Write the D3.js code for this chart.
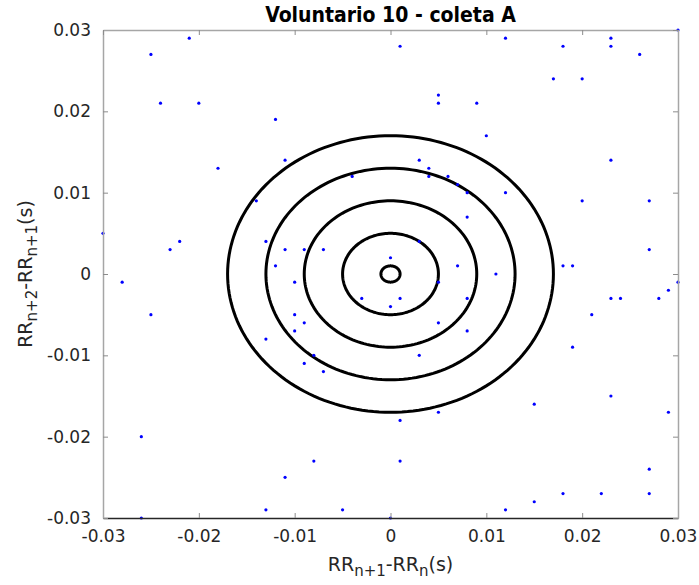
<!DOCTYPE html>
<html>
<head>
<meta charset="utf-8">
<script src="https://cdn.jsdelivr.net/npm/d3@7"></script>
<style>
  body { margin: 0; background: #fff; }
  text { font-family: "DejaVu Sans", sans-serif; }
</style>
</head>
<body>
<div id="chart"></div>
<script>
// successive differences (s)
var dx = [-0.021,-0.025,-0.024,-0.020,-0.012,-0.011,-0.018, 0.001, 0.005, 0.005,
           0.009, 0.010, 0.003, 0.004, 0.004, 0.006, 0.007,-0.004, 0.030, 0.012,
           0.023, 0.018, 0.023, 0.026, 0.017, 0.020, 0.023,-0.014,-0.030,-0.022,
          -0.023,-0.013,-0.011,-0.012,-0.028,-0.025,-0.010,-0.010,-0.010,-0.013,
           0.008, 0.008, 0.003, 0.000,-0.009,-0.007, 0.007, 0.005,-0.003, 0.001,
           0.000, 0.008,-0.009, 0.005, 0.008, 0.012, 0.020, 0.027, 0.027, 0.018,
           0.019, 0.011, 0.030, 0.029, 0.028, 0.023, 0.024, 0.021, 0.019,-0.026,
          -0.026,-0.011,-0.013,-0.008,-0.009,-0.007, 0.003, 0.005, 0.001,-0.008,
           0.001,-0.005, 0.000, 0.023, 0.015, 0.029, 0.027, 0.018, 0.022, 0.027,
           0.015, 0.012]
var dy = [ 0.029, 0.027, 0.021, 0.021, 0.019, 0.014, 0.013, 0.028, 0.022, 0.021,
           0.021, 0.017, 0.014, 0.013, 0.012, 0.012, 0.011, 0.012, 0.030, 0.029,
           0.029, 0.028, 0.028, 0.027, 0.024, 0.024, 0.014, 0.009, 0.005, 0.004,
           0.003, 0.004, 0.003, 0.001,-0.001,-0.005,-0.001,-0.005,-0.007,-0.008,
           0.010, 0.007, 0.004, 0.002, 0.003, 0.003, 0.001,-0.001,-0.003,-0.003,
          -0.004,-0.003,-0.006,-0.006,-0.007, 0.010, 0.009, 0.009, 0.003, 0.001,
           0.001, 0.000,-0.001,-0.002,-0.003,-0.003,-0.003,-0.005,-0.009,-0.020,
          -0.030,-0.025,-0.029,-0.010,-0.011,-0.012,-0.010,-0.017,-0.018,-0.023,
          -0.023,-0.029,-0.030,-0.015,-0.016,-0.017,-0.024,-0.027,-0.027,-0.027,
          -0.028,-0.029]

var radii = [0.001, 0.005, 0.009, 0.013, 0.017]
var ticks = [-0.03, -0.02, -0.01, 0, 0.01, 0.02, 0.03]
var tickLabels = ["-0.03", "-0.02", "-0.01", "0", "0.01", "0.02", "0.03"]

var margin = {top: 30, right: 21, bottom: 67, left: 103},
    W = 699, H = 585,
    width = W - margin.left - margin.right,
    height = H - margin.top - margin.bottom;

var svg = d3.select("#chart").append("svg")
    .attr("width", W).attr("height", H);

var g = svg.append("g")
    .attr("transform", "translate(" + margin.left + "," + margin.top + ")");

var x = d3.scaleLinear().domain([-0.03, 0.03]).range([0, width]);
var y = d3.scaleLinear().domain([-0.03, 0.03]).range([height, 0]);

// circles around the origin
var angles = d3.range(0, 361, 2).map(function(a) { return a * Math.PI / 180; });
var ring = d3.line()
    .x(function(d) { return d[0]; })
    .y(function(d) { return d[1]; });

g.selectAll(".ring")
  .data(radii).enter()
  .append("path")
    .attr("class", "ring")
    .attr("d", function(r) {
      return ring(angles.map(function(t) { return [x(r * Math.cos(t)), y(r * Math.sin(t))]; })) + "Z";
    })
    .style("fill", "none")
    .style("stroke", "#000")
    .style("stroke-width", 3);

// points
var pts = dx.map(function(v, i) { return {x: v, y: dy[i]}; });
g.selectAll(".pt")
  .data(pts).enter()
  .append("circle")
    .attr("class", "pt")
    .attr("cx", function(d) { return x(d.x); })
    .attr("cy", function(d) { return y(d.y); })
    .attr("r", 1.6)
    .style("fill", "#0000ff");

// axes (MATLAB style: ticks inside, box)
var fmt = function(d) { return tickLabels[ticks.indexOf(d)]; };

var xAxis = g.append("g")
    .attr("transform", "translate(0," + height + ")")
    .call(d3.axisBottom(x).tickValues(ticks).tickFormat(fmt).tickSizeInner(-5).tickSizeOuter(0).tickPadding(12));
var yAxis = g.append("g")
    .call(d3.axisLeft(y).tickValues(ticks).tickFormat(fmt).tickSizeInner(-5).tickSizeOuter(0).tickPadding(12));
var xTop = g.append("g")
    .call(d3.axisTop(x).tickValues(ticks).tickFormat("").tickSizeInner(-5).tickSizeOuter(0));
var yRight = g.append("g")
    .attr("transform", "translate(" + width + ",0)")
    .call(d3.axisRight(y).tickValues(ticks).tickFormat("").tickSizeInner(-5).tickSizeOuter(0));

[xAxis, yAxis, xTop, yRight].forEach(function(a) {
  a.selectAll(".domain").style("stroke", "#a6a6a6").style("stroke-width", 1.5);
  a.selectAll(".tick line").style("stroke", "#8c8c8c");
  a.selectAll("text").style("font-size", "17px").style("fill", "#262626")
    .style("font-family", "DejaVu Sans");
});
xAxis.select(".domain").style("stroke", "#262626");

// title
svg.append("text")
    .attr("x", margin.left + width / 2)
    .attr("y", 22)
    .attr("text-anchor", "middle")
    .style("font-family", "'DejaVu Sans Condensed', 'DejaVu Sans', sans-serif")
    .style("font-stretch", "condensed")
    .style("font-size", "21px")
    .style("font-weight", "bold")
    .style("fill", "#000")
    .text("Voluntario 10 - coleta A");

// axis labels with subscripts
function subLabel(sel, parts) {
  parts.forEach(function(p) {
    var t = sel.append("tspan").text(p[0]);
    if (p[1]) t.attr("baseline-shift", "-30%").style("font-size", "15px");
  });
}

var xl = svg.append("text")
    .attr("x", margin.left + width / 2)
    .attr("y", 571)
    .attr("text-anchor", "middle")
    .style("font-size", "19px")
    .style("fill", "#262626");
subLabel(xl, [["RR"], ["n+1", 1], ["-RR"], ["n", 1], ["(s)"]]);

var yl = svg.append("text")
    .attr("transform", "translate(32," + (margin.top + height / 2) + ") rotate(-90)")
    .attr("text-anchor", "middle")
    .style("font-size", "19px")
    .style("fill", "#262626");
subLabel(yl, [["RR"], ["n+2", 1], ["-RR"], ["n+1", 1], ["(s)"]]);
</script>
</body>
</html>
